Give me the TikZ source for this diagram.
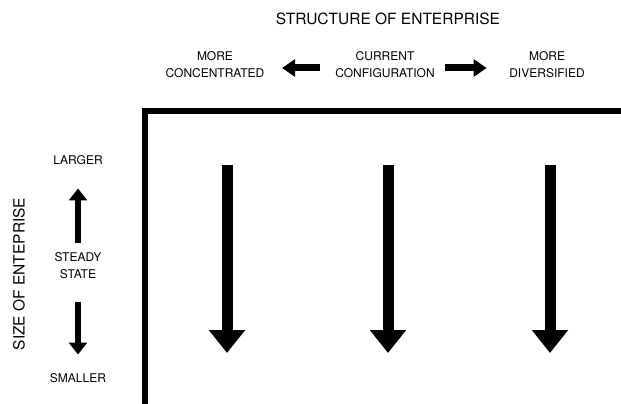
\documentclass[tikz,border=0pt]{standalone}
\usepackage{fontspec}
\setmainfont{TeX Gyre Heros}
\usetikzlibrary{arrows.meta}

\tikzstyle{label} = [inner sep=0pt, align=center, font=\fontsize{12}{17}\selectfont]
\tikzstyle{heading} = [inner sep=0pt, font=\fontsize{15.5}{18}\selectfont]
\tikzstyle{fat} = [line width=7pt, -{Triangle[length=13pt, width=17pt]}]
\tikzstyle{thin} = [line width=6.5pt, -{Triangle[length=12pt, width=18pt]}]
\tikzstyle{big} = [line width=11pt, -{Triangle[length=23pt, width=35pt]}]

\begin{document}
\begin{tikzpicture}[x=1pt, y=-1pt]
  \useasboundingbox (0,0) rectangle (621,404);

  \node (title) at (388,19) [heading] {STRUCTURE OF ENTERPRISE};
  \node (conc) at (215,64.5) [label] {MORE\\CONCENTRATED};
  \node (curr) at (385,64.5) [label] {CURRENT\\CONFIGURATION};
  \node (div) at (547,64.5) [label] {MORE\\DIVERSIFIED};

  \node (size) at (19,274) [heading, rotate=90] {SIZE OF ENTEPRISE};
  \node (larger) at (78,160) [label] {LARGER};
  \node (steady) at (78,266) [label] {STEADY\\STATE};
  \node (smaller) at (78,378) [label] {SMALLER};

  \draw [fat, shorten <=15.5pt, shorten >=17.5pt]
    ([yshift=-3.5pt]curr.west) to ([yshift=-3.5pt]conc.east);
  \draw [fat, shorten <=10.5pt, shorten >=22.5pt]
    ([yshift=-3.5pt]curr.east) to ([yshift=-3.5pt]div.west);
  \draw [thin, shorten <=9.7pt, shorten >=23.7pt] (steady) to (larger);
  \draw [thin, shorten <=22.7pt, shorten >=18.7pt] (steady) to (smaller);

  % frame
  \draw [line width=6pt] (145,404) -- (145,111) -- (621,111);

  \foreach \x [count=\i] in {227,388,550} {
    \coordinate (top\i) at (\x,165);
    \coordinate (tip\i) at (\x,353);
    \draw [big] (top\i) -- (tip\i);
  }
\end{tikzpicture}
\end{document}
